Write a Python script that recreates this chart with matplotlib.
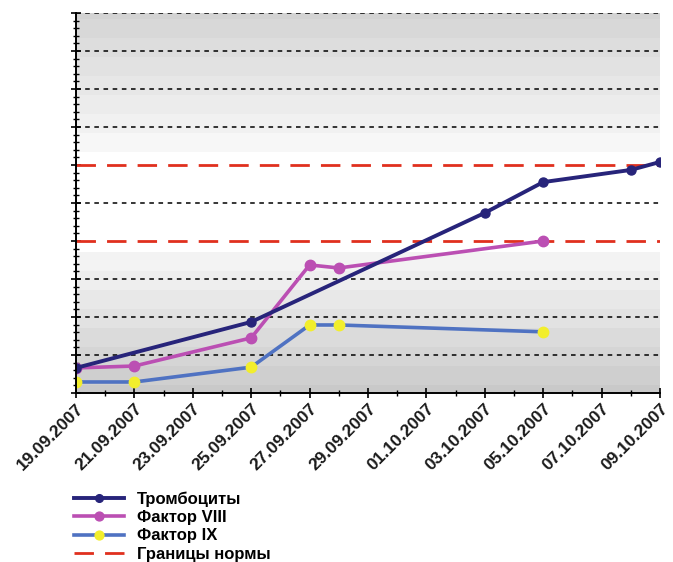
import numpy as np
import matplotlib
matplotlib.use("Agg")
import matplotlib.pyplot as plt
import matplotlib.dates as mdates
import pandas as pd

plt.rcParams['font.family'] = ['Liberation Sans', 'DejaVu Sans']

# Тромбоциты
trombo_dates = ["2007-09-19", "2007-09-25", "2007-10-03", "2007-10-05", "2007-10-08", "2007-10-09"]
trombo_vals = [0.66, 1.87, 4.74, 5.55, 5.87, 6.08]

# Фактор VIII
f8_dates = ["2007-09-19", "2007-09-21", "2007-09-25", "2007-09-27", "2007-09-28", "2007-10-05"]
f8_vals = [0.66, 0.71, 1.45, 3.37, 3.29, 4.0]

# Фактор IX
f9_dates = ["2007-09-19", "2007-09-21", "2007-09-25", "2007-09-27", "2007-09-28", "2007-10-05"]
f9_vals = [0.29, 0.29, 0.68, 1.79, 1.79, 1.61]

# границы нормы
norm_levels = [4.0, 6.0]

x_start = pd.Timestamp("2007-09-19")
x_end = pd.Timestamp("2007-10-09")

fig = plt.figure(figsize=(6.73, 5.62), dpi=100)
ax = fig.add_axes([76 / 673, 1 - 393 / 562, (660 - 76) / 673, (393 - 13) / 562])

# фон с серыми полосами
rows = np.linspace(10, 0, 200)
shade = np.ones_like(rows)
top = rows > 6.35
shade[top] = 0.965 - np.floor((rows[top] - 6.35) / 0.5) * 0.02
bot = rows < 3.7
shade[bot] = 0.955 - np.floor((3.7 - rows[bot]) / 0.5) * 0.024
bg = np.repeat(shade[:, None], 2, axis=1)
ax.imshow(bg, cmap="gray", vmin=0, vmax=1, aspect="auto",
          extent=[0, 1, 0, 1], transform=ax.transAxes, zorder=0,
          interpolation="nearest")

# сетка
for y in range(1, 11):
    if y in norm_levels:
        continue
    ax.axhline(y, color="black", lw=1.1, ls=(0, (3, 3)), zorder=1)

red_line = None
for y in norm_levels:
    red_line, = ax.plot([x_start, x_end], [y, y], color="#e0301e", lw=2,
                        ls=(0, (7, 4)), zorder=2)

l1, = ax.plot(pd.to_datetime(trombo_dates), trombo_vals, color="#27247a", lw=2.8,
              marker="o", ms=6.5, zorder=5)
l2, = ax.plot(pd.to_datetime(f8_dates), f8_vals, color="#bb4fb3", lw=2.6,
              marker="o", ms=7.5, zorder=4)
l3, = ax.plot(pd.to_datetime(f9_dates), f9_vals, color="#4f72c2", lw=2.6,
              marker="o", ms=7.5, mfc="#f2ee2c", mec="#f2ee2c", zorder=3)

ax.set_xlim(x_start, x_end)
ax.set_ylim(0, 10)

ax.xaxis.set_major_locator(mdates.DayLocator(interval=2))
ax.xaxis.set_minor_locator(mdates.DayLocator())
ax.xaxis.set_major_formatter(mdates.DateFormatter("%d.%m.%Y"))
ax.yaxis.set_major_locator(plt.MultipleLocator(1))
ax.yaxis.set_minor_locator(plt.MultipleLocator(0.2))
ax.set_yticklabels([])

for lab in ax.get_xticklabels():
    lab.set_rotation(45)
    lab.set_ha("right")
    lab.set_rotation_mode("anchor")
    lab.set_fontsize(12.5)
    lab.set_fontweight("bold")
    lab.set_color("#1a1a1a")

ax.tick_params(axis="x", which="major", direction="inout", length=7, width=1.2, pad=2)
ax.tick_params(axis="x", which="minor", direction="inout", length=4, width=1)
ax.tick_params(axis="y", which="major", direction="inout", length=7, width=1.2)
ax.tick_params(axis="y", which="minor", direction="inout", length=4, width=1)

for side in ["top", "right"]:
    ax.spines[side].set_visible(False)
for side in ["left", "bottom"]:
    ax.spines[side].set_linewidth(1.4)
    ax.spines[side].set_zorder(6)

fig.legend([l1, l2, l3, red_line],
           ["Тромбоциты", "Фактор VIII", "Фактор IX", "Границы нормы"],
           loc="upper left", bbox_to_anchor=(66 / 673, 1 - 483 / 562),
           frameon=False, handlelength=3.0, handletextpad=0.75, borderpad=0,
           labelspacing=0.2, prop={"size": 12, "weight": "bold"},
           markerscale=0.85)

fig.savefig("out.png", dpi=100)
